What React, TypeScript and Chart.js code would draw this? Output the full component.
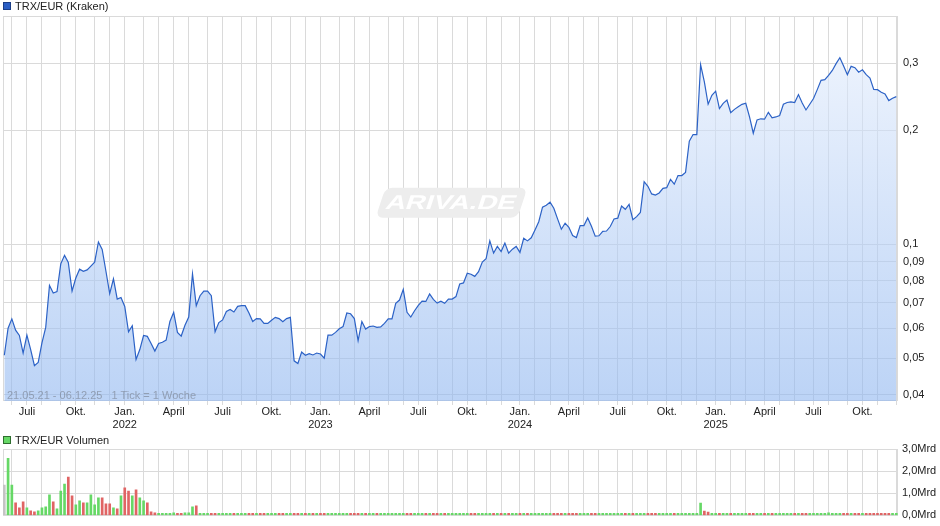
import React, { useEffect, useRef } from 'react';
import { Chart, registerables } from 'chart.js';

Chart.register(...registerables);

// Weekly data, first week = week of Monday 17.05.2021 (21.05.21) ... week of 01.12.2025 (06.12.25)
const START_MONDAY = Date.UTC(2021, 4, 17);
const FIRST_MONTH: [number, number] = [2021, 5]; // June 2021
const LAST_MONTH: [number, number] = [2025, 11]; // Dec 2025

const PRICE = [
  0.0509, 0.0600, 0.0635, 0.0593, 0.0574, 0.0516, 0.0575, 0.0527, 0.0478, 0.0487,
  0.0549, 0.0603, 0.0778, 0.0743, 0.0750, 0.0887, 0.0934, 0.0895, 0.0752, 0.0814,
  0.0859, 0.0848, 0.0855, 0.0875, 0.0896, 0.1013, 0.0968, 0.0848, 0.0740, 0.0810,
  0.0716, 0.0723, 0.0685, 0.0587, 0.0609, 0.0496, 0.0527, 0.0574, 0.0571, 0.0547,
  0.0522, 0.0547, 0.0551, 0.0558, 0.0625, 0.0661, 0.0585, 0.0572, 0.0611, 0.0642,
  0.0835, 0.0688, 0.0731, 0.0752, 0.0752, 0.0731, 0.0587, 0.0621, 0.0631, 0.0664,
  0.0672, 0.0662, 0.0685, 0.0688, 0.0688, 0.0658, 0.0625, 0.0636, 0.0635, 0.0618,
  0.0618, 0.0630, 0.0641, 0.0636, 0.0624, 0.0636, 0.0641, 0.0492, 0.0484, 0.0519,
  0.0509, 0.0514, 0.0510, 0.0516, 0.0513, 0.0500, 0.0575, 0.0575, 0.0585, 0.0598,
  0.0606, 0.0658, 0.0655, 0.0636, 0.0556, 0.0625, 0.0597, 0.0606, 0.0608, 0.0603,
  0.0605, 0.0618, 0.0635, 0.0635, 0.0698, 0.0712, 0.0760, 0.0661, 0.0642, 0.0667,
  0.0689, 0.0707, 0.0706, 0.0739, 0.0715, 0.0699, 0.0707, 0.0698, 0.0716, 0.0716,
  0.0727, 0.0785, 0.0790, 0.0838, 0.0833, 0.0822, 0.0846, 0.0897, 0.0915, 0.1020,
  0.0947, 0.0986, 0.0956, 0.1007, 0.0947, 0.0970, 0.0986, 0.0951, 0.1036, 0.1020,
  0.1039, 0.1090, 0.1146, 0.1252, 0.1267, 0.1290, 0.1244, 0.1166, 0.1095, 0.1136,
  0.1108, 0.1054, 0.1041, 0.1119, 0.1119, 0.1172, 0.1115, 0.1050, 0.1052, 0.1081,
  0.1083, 0.1113, 0.1165, 0.1171, 0.1261, 0.1236, 0.1273, 0.1160, 0.1182, 0.1212,
  0.1462, 0.1421, 0.1357, 0.1347, 0.1365, 0.1404, 0.1409, 0.1482, 0.1440, 0.1517,
  0.1517, 0.1547, 0.1870, 0.1946, 0.1946, 0.2976, 0.2679, 0.2340, 0.2471, 0.2533,
  0.2278, 0.2353, 0.2399, 0.2222, 0.2268, 0.2303, 0.2339, 0.2354, 0.2167, 0.1962,
  0.2127, 0.2142, 0.2137, 0.2228, 0.2154, 0.2166, 0.2184, 0.2340, 0.2365, 0.2375,
  0.2365, 0.2481, 0.2358, 0.2260, 0.2340, 0.2423, 0.2557, 0.2706, 0.2716, 0.2787,
  0.2873, 0.2994, 0.3104, 0.2951, 0.2800, 0.2946, 0.2922, 0.2842, 0.2885, 0.2800,
  0.2743, 0.2561, 0.2557, 0.2517, 0.2491, 0.2392, 0.2426, 0.2451,
];

// Volume in Mrd
const VOLUME = [
  1.37, 2.58, 1.37, 0.57, 0.34, 0.61, 0.34, 0.21, 0.16, 0.21,
  0.34, 0.39, 0.93, 0.61, 0.30, 1.10, 1.42, 1.73, 0.88, 0.48,
  0.66, 0.57, 0.57, 0.93, 0.48, 0.79, 0.79, 0.52, 0.52, 0.34,
  0.30, 0.88, 1.24, 1.10, 0.88, 1.15, 0.79, 0.66, 0.57, 0.16,
  0.12, 0.07, 0.07, 0.07, 0.07, 0.12, 0.07, 0.07, 0.12, 0.12,
  0.39, 0.43, 0.07, 0.06, 0.05, 0.04, 0.07, 0.05, 0.05, 0.05,
  0.06, 0.03, 0.03, 0.02, 0.02, 0.03, 0.03, 0.02, 0.02, 0.03,
  0.02, 0.02, 0.03, 0.02, 0.02, 0.03, 0.02, 0.06, 0.04, 0.03,
  0.02, 0.02, 0.02, 0.02, 0.02, 0.02, 0.03, 0.02, 0.02, 0.02,
  0.03, 0.02, 0.02, 0.02, 0.03, 0.02, 0.02, 0.02, 0.02, 0.02,
  0.02, 0.03, 0.06, 0.07, 0.06, 0.04, 0.03, 0.07, 0.03, 0.03,
  0.03, 0.04, 0.05, 0.06, 0.06, 0.06, 0.03, 0.04, 0.03, 0.06,
  0.04, 0.04, 0.04, 0.05, 0.05, 0.04, 0.05, 0.06, 0.07, 0.08,
  0.06, 0.07, 0.06, 0.07, 0.03, 0.03, 0.03, 0.03, 0.03, 0.03,
  0.03, 0.03, 0.03, 0.03, 0.03, 0.03, 0.07, 0.03, 0.03, 0.03,
  0.03, 0.03, 0.03, 0.03, 0.03, 0.03, 0.03, 0.03, 0.04, 0.03,
  0.03, 0.03, 0.03, 0.03, 0.03, 0.04, 0.04, 0.04, 0.04, 0.06,
  0.03, 0.03, 0.03, 0.05, 0.05, 0.05, 0.05, 0.03, 0.05, 0.05,
  0.05, 0.05, 0.05, 0.06, 0.06, 0.56, 0.20, 0.15, 0.05, 0.05,
  0.03, 0.05, 0.08, 0.08, 0.05, 0.08, 0.05, 0.05, 0.05, 0.05,
  0.05, 0.05, 0.05, 0.05, 0.05, 0.05, 0.05, 0.05, 0.05, 0.05,
  0.05, 0.08, 0.05, 0.05, 0.05, 0.05, 0.08, 0.08, 0.05, 0.12,
  0.09, 0.09, 0.05, 0.05, 0.09, 0.05, 0.05, 0.05, 0.05, 0.08,
  0.05, 0.05, 0.05, 0.05, 0.05, 0.05, 0.05, 0.05,
];

const PRICE_TICKS = [0.04, 0.05, 0.06, 0.07, 0.08, 0.09, 0.1, 0.2, 0.3];
const VOLUME_TICKS = [0, 1, 2, 3];
const MONTH_NAMES = ['Jan.', '', '', 'April', '', '', 'Juli', '', '', 'Okt.', '', ''];

const WEEK_MS = 7 * 864e5;
const FONT = '"Liberation Sans", Arial, sans-serif';
const GRID = '#dadada';

function buildMonthTicks() {
  const out: { value: number; label: string | string[] }[] = [];
  let [y, m] = FIRST_MONTH;
  while (y < LAST_MONTH[0] || (y === LAST_MONTH[0] && m <= LAST_MONTH[1])) {
    const idx = Math.floor((Date.UTC(y, m, 1) - START_MONDAY) / WEEK_MS);
    const name = MONTH_NAMES[m];
    out.push({ value: idx, label: m === 0 ? [name, String(y)] : name });
    m++;
    if (m > 11) { m = 0; y++; }
  }
  return out;
}

const framePlugin = {
  id: 'frame',
  beforeDatasetsDraw(chart: any) {
    const { ctx, chartArea: a } = chart;
    ctx.save();
    ctx.strokeStyle = GRID;
    ctx.lineWidth = 1;
    ctx.strokeRect(Math.round(a.left) + 0.5, Math.round(a.top) + 0.5,
      Math.round(a.right - a.left) - 1, Math.round(a.bottom - a.top) - 1);
    ctx.restore();
  },
};

const watermarkPlugin = {
  id: 'watermark',
  beforeDatasetsDraw(chart: any) {
    const { ctx, chartArea: a } = chart;
    const cx = (a.left + a.right) / 2 + 1;
    const cy = a.top + (a.bottom - a.top) * 0.485;
    ctx.save();
    ctx.translate(cx, cy);
    ctx.transform(1, 0, -0.33, 1, 0, 0);
    ctx.beginPath();
    ctx.roundRect(-71, -15, 142, 30, 7);
    ctx.fillStyle = '#ededed';
    ctx.fill();
    ctx.fillStyle = '#ffffff';
    ctx.font = `bold 20px ${FONT}`;
    ctx.textAlign = 'center';
    ctx.textBaseline = 'middle';
    ctx.scale(1.38, 1);
    ctx.fillText('ARIVA.DE', 0, 1);
    ctx.restore();
  },
};

export default function App() {
  const priceRef = useRef<HTMLCanvasElement>(null);
  const volRef = useRef<HTMLCanvasElement>(null);

  useEffect(() => {
    Chart.defaults.font.family = FONT;
    Chart.defaults.font.size = 11;
    Chart.defaults.color = '#333';
    const months = buildMonthTicks();
    const labelOf = new Map(months.map((t) => [t.value, t.label]));
    const xMin = -0.35;
    const xMax = PRICE.length - 1 + 0.45;

    const priceChart = new Chart(priceRef.current!, {
      type: 'line',
      data: {
        datasets: [{
          data: PRICE.map((v, i) => ({ x: i, y: v })),
          borderColor: '#2c62c6',
          borderWidth: 1.2,
          pointRadius: 0,
          tension: 0,
          fill: 'start',
          backgroundColor: (c: any) => {
            const ch = c.chart;
            const a = ch.chartArea;
            if (!a) return 'rgba(180,205,245,0.6)';
            const g = ch.ctx.createLinearGradient(0, a.top, 0, a.bottom);
            g.addColorStop(0, 'rgba(232,240,253,0.6)');
            g.addColorStop(1, 'rgba(143,182,240,0.6)');
            return g;
          },
        }],
      },
      options: {
        animation: false,
        responsive: false,
        devicePixelRatio: 1,
        events: [],
        layout: { padding: { left: 3, top: 16, right: 0, bottom: 0 } },
        plugins: { legend: { display: false }, tooltip: { enabled: false } },
        scales: {
          x: {
            type: 'linear',
            min: xMin,
            max: xMax,
            afterBuildTicks: (s: any) => { s.ticks = months.map((t) => ({ value: t.value })); },
            afterFit: (s: any) => { s.height = 35; },
            ticks: {
              autoSkip: false,
              maxRotation: 0,
              minRotation: 0,
              padding: 1,
              font: { size: 11, lineHeight: 1.15 },
              color: '#222',
              callback: (v: any) => labelOf.get(v) ?? '',
            },
            grid: { color: GRID, tickLength: 4, drawTicks: true },
            border: { display: false },
          },
          y: {
            type: 'logarithmic',
            position: 'right',
            min: 0.03855,
            max: 0.4,
            afterBuildTicks: (s: any) => { s.ticks = PRICE_TICKS.map((v) => ({ value: v })); },
            afterFit: (s: any) => { s.width = 42; },
            ticks: {
              padding: 5,
              color: '#222',
              font: { size: 11 },
              callback: (v: any) => String(v).replace('.', ','),
            },
            grid: { color: GRID, drawTicks: false },
            border: { display: false },
          },
        },
      },
      plugins: [watermarkPlugin, framePlugin],
    } as any);

    const barColors = VOLUME.map((_, i) =>
      i === 0 ? '#c4c4c4' : PRICE[i] >= PRICE[i - 1] ? '#66d866' : '#e06464');

    const volChart = new Chart(volRef.current!, {
      type: 'bar',
      data: {
        datasets: [{
          data: VOLUME.map((v, i) => ({ x: i, y: v })),
          backgroundColor: barColors,
          barThickness: 2,
          minBarLength: 2,
        }],
      },
      options: {
        animation: false,
        responsive: false,
        devicePixelRatio: 1,
        events: [],
        layout: { padding: { left: 3, top: 17, right: 0, bottom: 0 } },
        plugins: { legend: { display: false }, tooltip: { enabled: false } },
        scales: {
          x: {
            type: 'linear',
            min: xMin,
            max: xMax,
            offset: false,
            afterBuildTicks: (s: any) => { s.ticks = months.map((t) => ({ value: t.value })); },
            afterFit: (s: any) => { s.height = 10; },
            ticks: { display: false, autoSkip: false },
            grid: { color: GRID, drawTicks: false, offset: false },
            border: { display: false },
          },
          y: {
            type: 'linear',
            position: 'right',
            min: 0,
            max: 3,
            afterBuildTicks: (s: any) => { s.ticks = VOLUME_TICKS.map((v) => ({ value: v })); },
            afterFit: (s: any) => { s.width = 42; },
            ticks: {
              padding: 4,
              color: '#222',
              font: { size: 11 },
              callback: (v: any) => Number(v).toFixed(1).replace('.', ',') + 'Mrd',
            },
            grid: { color: GRID, drawTicks: false },
            border: { display: false },
          },
        },
      },
      plugins: [framePlugin],
    } as any);

    return () => { priceChart.destroy(); volChart.destroy(); };
  }, []);

  const legendText: React.CSSProperties = {
    position: 'absolute', left: 15, font: `11px ${FONT}`, color: '#222', lineHeight: '12px', whiteSpace: 'nowrap',
  };
  const square = (bg: string, border: string): React.CSSProperties => ({
    position: 'absolute', left: 3, width: 6, height: 6, background: bg, border: `1px solid ${border}`,
  });

  return (
    <div style={{ position: 'fixed', left: 0, top: 0, width: 940, height: 526, background: '#fff', overflow: 'hidden' }}>
      <canvas ref={priceRef} width={940} height={436} style={{ position: 'absolute', left: 0, top: 0, display: 'block' }} />
      <canvas ref={volRef} width={940} height={94} style={{ position: 'absolute', left: 0, top: 432, display: 'block' }} />
      <div style={{ ...square('#2a5ec4', '#1b3d86'), top: 2 }} />
      <div style={{ ...legendText, top: 0 }}>TRX/EUR (Kraken)</div>
      <div style={{ ...square('#66d866', '#2f6e2f'), top: 436 }} />
      <div style={{ ...legendText, top: 434 }}>TRX/EUR Volumen</div>
      <div style={{ position: 'absolute', left: 7, top: 389, font: `11px ${FONT}`, color: 'rgba(110,115,125,0.55)', lineHeight: '12px', whiteSpace: 'pre' }}>
        {'21.05.21 - 06.12.25   1 Tick = 1 Woche'}
      </div>
    </div>
  );
}
